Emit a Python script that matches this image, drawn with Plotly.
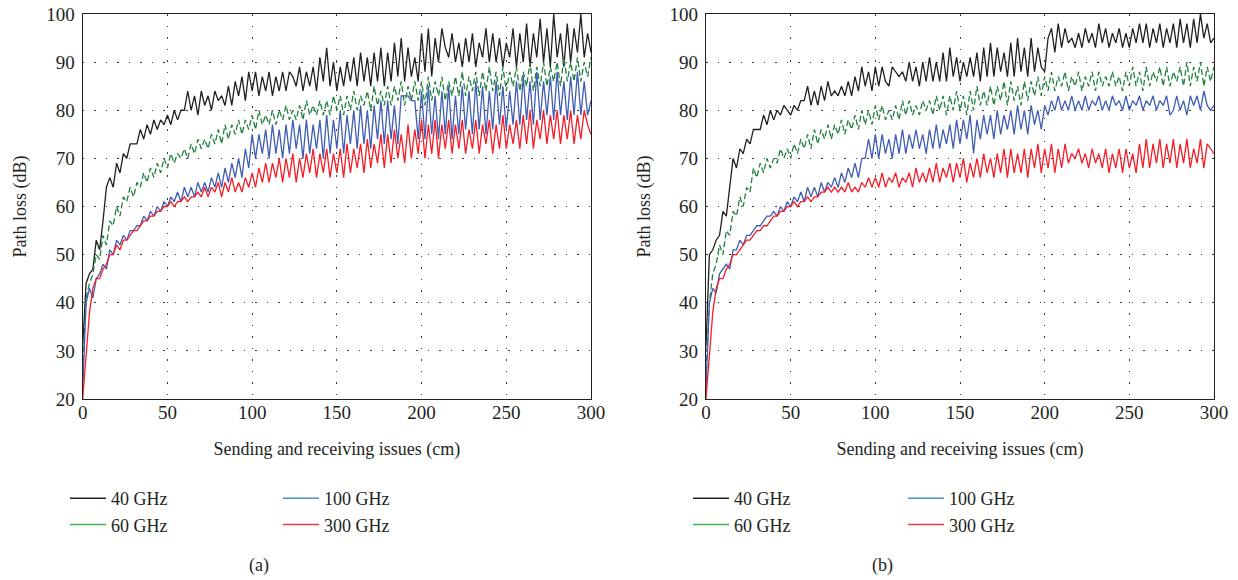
import plotly.graph_objects as go

# ---------------- data ----------------
distance_cm = list(range(0, 301, 2))

a_40ghz = [31,
    44, 46, 47, 53, 51, 57, 64, 66, 64,
    69, 67, 71, 70, 73, 73, 73, 76, 74, 77,
    75, 78, 76, 78, 77, 79, 77, 80, 78, 80,
    80, 84, 80, 83, 79, 84, 81, 83, 80, 84,
    82, 83, 81, 85, 81, 86, 83, 87, 82, 88,
    84, 88, 83, 87, 84, 88, 83, 87, 84, 88,
    84, 88, 87, 85, 89, 84, 88, 85, 89, 84,
    91, 86, 93, 85, 90, 84, 89, 85, 90, 86,
    91, 85, 92, 86, 91, 85, 92, 86, 93, 85,
    92, 86, 94, 87, 95, 86, 93, 87, 91, 86,
    96, 88, 97, 87, 95, 90, 97, 93, 91, 96,
    90, 94, 89, 95, 90, 96, 89, 94, 91, 97,
    90, 96, 90, 95, 89, 94, 91, 97, 89, 96,
    90, 98, 89, 96, 91, 99, 90, 97, 89, 100,
    91, 96, 89, 98, 90, 97, 92, 100, 91, 96,
    92]

a_60ghz = [26,
    41, 44, 46, 50, 49, 54, 52, 57, 56,
    60, 58, 62, 61, 64, 62, 65, 64, 67, 65,
    68, 66, 69, 67, 70, 68, 71, 69, 71, 70,
    72, 70, 73, 71, 74, 72, 74, 72, 75, 73,
    76, 73, 77, 74, 77, 75, 78, 75, 78, 76,
    79, 76, 80, 77, 79, 77, 80, 77, 80, 78,
    81, 78, 80, 78, 81, 78, 82, 79, 81, 79,
    82, 79, 82, 79, 83, 80, 83, 79, 83, 80,
    84, 80, 83, 81, 84, 80, 85, 81, 84, 81,
    85, 81, 85, 82, 86, 81, 85, 82, 86, 82,
    86, 81, 87, 82, 86, 83, 87, 82, 86, 83,
    87, 83, 88, 83, 87, 84, 88, 83, 88, 84,
    89, 84, 88, 83, 89, 84, 88, 85, 89, 84,
    88, 85, 90, 84, 89, 85, 90, 85, 89, 86,
    90, 85, 91, 86, 90, 86, 91, 86, 90, 87,
    91]

a_100ghz = [22,
    40, 43, 41, 45, 46, 48, 47, 51, 50,
    53, 52, 54, 53, 55, 55, 56, 56, 58, 57,
    59, 58, 60, 59, 61, 60, 62, 61, 63, 61,
    64, 62, 64, 62, 65, 63, 65, 63, 66, 64,
    67, 64, 68, 65, 69, 66, 70, 66, 72, 68,
    75, 70, 75, 71, 76, 70, 77, 71, 76, 70,
    77, 71, 78, 72, 77, 70, 78, 71, 77, 72,
    78, 70, 79, 71, 78, 72, 80, 71, 79, 73,
    80, 72, 81, 73, 80, 72, 81, 74, 82, 73,
    82, 74, 81, 73, 83, 83, 83, 82, 82, 74,
    84, 74, 85, 75, 83, 74, 84, 75, 85, 74,
    83, 75, 85, 76, 84, 75, 86, 76, 85, 75,
    84, 76, 86, 77, 85, 76, 84, 77, 86, 77,
    87, 78, 86, 77, 88, 78, 86, 79, 87, 78,
    88, 79, 86, 78, 87, 79, 88, 79, 86, 79,
    82]

a_300ghz = [20,
    30, 38, 43, 45, 45, 47, 48, 50, 50,
    52, 51, 53, 53, 54, 55, 55, 56, 57, 57,
    58, 58, 59, 59, 60, 60, 61, 60, 61, 61,
    62, 61, 62, 62, 63, 62, 64, 62, 64, 63,
    65, 62, 65, 63, 66, 63, 65, 63, 66, 64,
    67, 64, 68, 65, 69, 65, 69, 66, 70, 65,
    70, 66, 71, 65, 70, 66, 71, 67, 72, 66,
    71, 67, 72, 66, 71, 67, 72, 66, 73, 67,
    72, 68, 73, 67, 74, 68, 73, 69, 75, 68,
    75, 69, 76, 70, 75, 69, 77, 70, 76, 71,
    78, 70, 77, 71, 78, 70, 77, 72, 78, 71,
    77, 72, 78, 71, 76, 72, 78, 71, 77, 73,
    78, 71, 77, 72, 79, 72, 77, 73, 78, 72,
    79, 73, 80, 72, 78, 74, 80, 73, 79, 74,
    80, 73, 79, 74, 80, 73, 79, 74, 80, 77,
    75]

b_40ghz = [31,
    50, 51, 53, 54, 59, 58, 64, 70, 68,
    72, 71, 74, 73, 76, 76, 76, 79, 77, 80,
    78, 80, 79, 81, 80, 79, 81, 80, 82, 82,
    85, 81, 84, 81, 85, 82, 86, 83, 84, 83,
    85, 83, 86, 83, 87, 84, 89, 85, 88, 84,
    89, 85, 89, 86, 85, 89, 88, 87, 88, 86,
    90, 86, 89, 85, 90, 86, 91, 86, 90, 86,
    92, 86, 93, 87, 91, 86, 90, 87, 91, 87,
    92, 86, 93, 87, 94, 87, 93, 88, 92, 87,
    94, 87, 95, 88, 93, 87, 95, 88, 93, 89,
    88, 95, 97, 92, 98, 93, 97, 94, 95, 93,
    96, 93, 97, 94, 96, 93, 98, 94, 97, 93,
    96, 94, 97, 93, 96, 93, 97, 94, 98, 94,
    98, 93, 97, 94, 98, 93, 97, 94, 98, 93,
    99, 94, 98, 93, 99, 94, 100, 95, 98, 94,
    95]

b_60ghz = [26,
    40, 46, 48, 52, 50, 55, 54, 59, 58,
    62, 60, 64, 63, 68, 66, 69, 67, 70, 68,
    70, 69, 72, 70, 72, 70, 73, 71, 74, 72,
    75, 72, 76, 73, 76, 74, 77, 74, 77, 75,
    78, 75, 78, 76, 79, 76, 80, 77, 80, 77,
    81, 78, 81, 78, 80, 78, 81, 78, 82, 79,
    82, 79, 81, 79, 82, 80, 82, 79, 83, 80,
    83, 79, 83, 80, 84, 80, 83, 79, 84, 80,
    85, 81, 84, 81, 85, 81, 85, 82, 86, 81,
    86, 82, 85, 81, 86, 82, 86, 83, 87, 83,
    87, 84, 88, 84, 87, 85, 88, 84, 87, 85,
    88, 84, 87, 85, 88, 84, 88, 85, 87, 85,
    88, 85, 87, 84, 88, 85, 89, 85, 88, 84,
    89, 85, 88, 86, 89, 85, 89, 85, 88, 86,
    89, 85, 90, 85, 89, 86, 90, 85, 89, 86,
    89]

b_100ghz = [22,
    40, 43, 42, 46, 47, 48, 47, 51, 51,
    53, 52, 54, 54, 55, 56, 56, 57, 58, 58,
    59, 58, 60, 59, 61, 60, 62, 61, 63, 61,
    64, 62, 64, 62, 65, 63, 65, 64, 66, 64,
    67, 65, 68, 66, 69, 66, 70, 70, 74, 70,
    75, 70, 75, 71, 74, 70, 75, 71, 76, 71,
    75, 72, 76, 72, 75, 71, 76, 72, 77, 72,
    76, 73, 77, 72, 78, 73, 78, 74, 79, 71,
    78, 74, 79, 75, 79, 74, 80, 75, 79, 76,
    80, 75, 81, 76, 80, 75, 81, 77, 80, 76,
    81, 79, 82, 80, 83, 80, 82, 80, 83, 80,
    82, 80, 83, 80, 82, 81, 83, 80, 82, 80,
    83, 81, 82, 80, 83, 80, 82, 81, 83, 80,
    82, 81, 83, 80, 82, 81, 83, 79, 80, 83,
    80, 82, 79, 83, 81, 83, 80, 84, 81, 80,
    81]

b_300ghz = [20,
    30, 38, 43, 45, 45, 47, 48, 50, 50,
    51, 52, 53, 53, 54, 55, 55, 56, 56, 57,
    58, 58, 59, 59, 60, 60, 61, 60, 61, 61,
    62, 61, 62, 62, 63, 63, 64, 63, 64, 63,
    64, 63, 65, 63, 64, 63, 65, 64, 66, 64,
    66, 64, 67, 64, 66, 65, 67, 64, 66, 65,
    67, 64, 68, 65, 67, 65, 68, 65, 69, 65,
    68, 66, 69, 65, 69, 66, 70, 65, 69, 66,
    70, 66, 71, 67, 70, 66, 71, 67, 72, 66,
    72, 67, 71, 67, 72, 66, 72, 68, 73, 67,
    72, 68, 73, 67, 72, 68, 73, 69, 71, 70,
    72, 69, 71, 68, 72, 69, 71, 68, 72, 67,
    71, 68, 72, 67, 72, 68, 71, 67, 73, 68,
    74, 68, 73, 69, 74, 68, 73, 69, 74, 68,
    73, 69, 74, 68, 72, 69, 74, 68, 73, 72,
    71]

series_names = ["40 GHz", "60 GHz", "100 GHz", "300 GHz"]
x_ticks = [0, 50, 100, 150, 200, 250, 300]
y_ticks = [20, 30, 40, 50, 60, 70, 80, 90, 100]
x_title = "Sending and receiving issues (cm)"
y_title = "Path loss (dB)"
panel_labels = ["(a)", "(b)"]

# ---------------- styles ----------------
W, H = 1238, 580
FONT = "Liberation Serif"
TXT = "#231f20"
plot_colors = ["#231f20", "#21803f", "#3f5db3", "#f71c25"]
plot_dash = ["solid", "6px,3px", "solid", "solid"]
legend_colors = ["#231f20", "#3cb54a", "#4d8fd0", "#ee3a43"]

fig = go.Figure()

panels = [
    ("x", "y", [a_40ghz, a_60ghz, a_100ghz, a_300ghz]),
    ("x2", "y2", [b_40ghz, b_60ghz, b_100ghz, b_300ghz]),
]
for p, (xa, ya, data) in enumerate(panels):
    for k, vals in enumerate(data):
        fig.add_trace(go.Scatter(
            x=distance_cm, y=vals, xaxis=xa, yaxis=ya, mode="lines",
            line=dict(color=plot_colors[k], width=1.3, dash=plot_dash[k]),
            showlegend=False, hoverinfo="skip"))
    # legend entries
    for k, name in enumerate(series_names):
        leg_id = 2 * p + (k // 2) + 1
        leg = "legend" if leg_id == 1 else f"legend{leg_id}"
        fig.add_trace(go.Scatter(
            x=[None], y=[None], xaxis=xa, yaxis=ya, mode="lines",
            line=dict(color=legend_colors[k], width=1.5, dash="solid"),
            name=name, legend=leg, showlegend=True))

def px_x(v):
    return v / W

def px_y(v):
    return 1 - v / H

axis_common = dict(
    showline=True, mirror=True, linecolor=TXT, linewidth=1.2,
    showgrid=True, gridcolor="#3a3a3a", gridwidth=1, griddash="1.5px,10px",
    zeroline=False, ticks="", automargin=False,
    tickfont=dict(family=FONT, size=19, color=TXT),
)
ydom = [px_y(399), px_y(14)]
xdoms = [[px_x(82.7), px_x(591)], [px_x(706), px_x(1214)]]

layout = dict(
    width=W, height=H, autosize=False,
    margin=dict(l=0, r=0, t=0, b=0, autoexpand=False),
    paper_bgcolor="white", plot_bgcolor="white",
    font=dict(family=FONT, size=18, color=TXT),
)
for p in range(2):
    sx = "" if p == 0 else "2"
    layout[f"xaxis{sx}"] = dict(
        axis_common, domain=xdoms[p], range=[0, 300], tickvals=x_ticks,
        anchor=f"y{sx}", ticklabelstandoff=-4,
        title=dict(text=x_title, standoff=20, font=dict(family=FONT, size=18, color=TXT)))
    layout[f"yaxis{sx}"] = dict(
        axis_common, domain=ydom, range=[20, 100], tickvals=y_ticks,
        anchor=f"x{sx}", ticklabelstandoff=3,
        title=dict(text=y_title, standoff=14, font=dict(family=FONT, size=18, color=TXT)))

legend_left_px = [65, 278, 688, 903]
for i, lx in enumerate(legend_left_px):
    key = "legend" if i == 0 else f"legend{i + 1}"
    layout[key] = dict(
        x=px_x(lx), y=px_y(480), xanchor="left", yanchor="top",
        bgcolor="rgba(0,0,0,0)", borderwidth=0, itemwidth=36,
        font=dict(family=FONT, size=18, color=TXT),
        orientation="v", traceorder="normal", tracegroupgap=0)

fig.update_layout(**layout)

for p, lab in enumerate(panel_labels):
    fig.add_annotation(text=lab, xref="paper", yref="paper",
                       x=px_x([259, 882][p]), y=px_y(565),
                       showarrow=False, xanchor="center", yanchor="middle",
                       font=dict(family=FONT, size=18, color=TXT))

fig.write_html(
    "out.html",
    config={"displayModeBar": False},
    post_script="document.body.style.margin='0';document.body.style.padding='0';",
)
